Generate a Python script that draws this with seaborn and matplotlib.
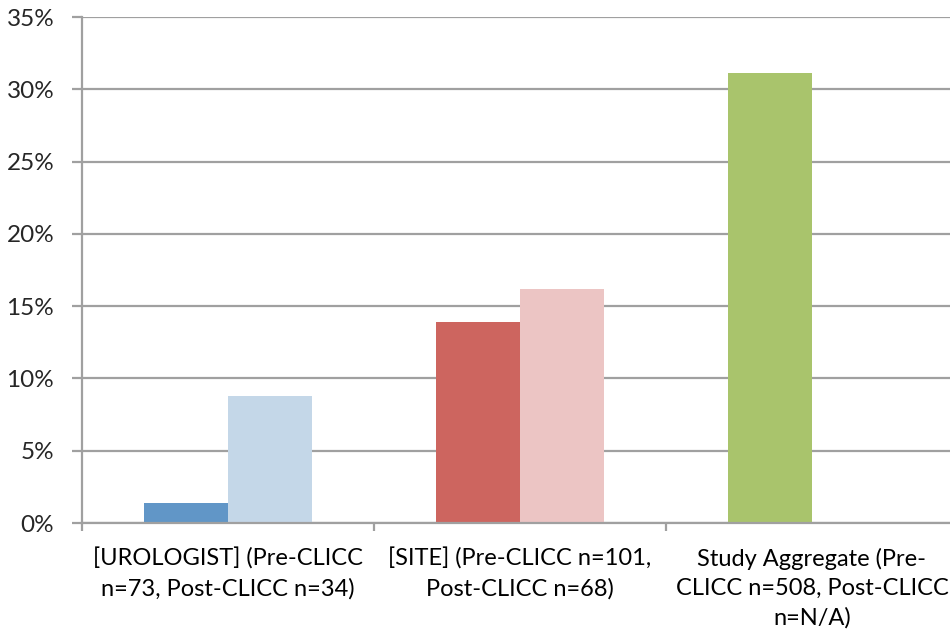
import matplotlib
matplotlib.use("Agg")
import matplotlib.pyplot as plt
import seaborn as sns
import pandas as pd
from matplotlib.ticker import PercentFormatter, FixedLocator

# Category labels (wrapped as on the axis)
categories = [
    "[UROLOGIST] (Pre-CLICC\nn=73, Post-CLICC n=34)",
    "[SITE] (Pre-CLICC n=101,\nPost-CLICC n=68)",
    "Study Aggregate (Pre-\nCLICC n=508, Post-CLICC\nn=N/A)",
]
phases = ["Pre-CLICC", "Post-CLICC"]

# Rates per category (fractions); aggregate has no post value
pre_values = [0.014, 0.139, 0.311]
post_values = [0.088, 0.162, None]

pre_colors = ["#6196C7", "#CD655F", "#A9C46C"]
post_colors = ["#C4D7E8", "#ECC5C4", "#FFFFFF"]

rows = []
for cat, pre, post in zip(categories, pre_values, post_values):
    rows.append({"category": cat, "phase": "Pre-CLICC", "value": pre})
    if post is not None:
        rows.append({"category": cat, "phase": "Post-CLICC", "value": post})
df = pd.DataFrame(rows)

sns.set_style("white")
plt.rcParams["font.family"] = ["Lato", "DejaVu Sans"]

fig = plt.figure(figsize=(9.5, 6.37), dpi=100)
ax = fig.add_axes([82 / 950, 114 / 637, 876 / 950, 506 / 637])

sns.barplot(
    data=df, x="category", y="value", hue="phase",
    order=categories, hue_order=phases,
    width=0.575, dodge=True, gap=0, legend=False,
    errorbar=None, ax=ax, saturation=1,
)

# Recolor bars individually
for container, colors, vals in zip(ax.containers, [pre_colors, post_colors], [pre_values, post_values]):
    present = [c for c, v in zip(colors, vals) if v is not None]
    for patch, c in zip(container.patches, present):
        patch.set_facecolor(c)
        patch.set_edgecolor("none")
        patch.set_linewidth(0)

ax.set_xlim(-0.5, 2.5)
ax.set_ylim(0, 0.35)
ax.yaxis.set_major_locator(FixedLocator([i * 0.05 for i in range(8)]))
ax.yaxis.set_major_formatter(PercentFormatter(xmax=1, decimals=0))

grid_color = "#A0A0A0"
ax.grid(axis="y", color=grid_color, linewidth=1.6)
ax.grid(axis="x", visible=False)
ax.set_axisbelow(True)

for side in ["top", "right"]:
    ax.spines[side].set_visible(False)
for side in ["left", "bottom"]:
    ax.spines[side].set_color(grid_color)
    ax.spines[side].set_linewidth(1.6)

# Category boundary ticks on x axis
ax.set_xticks([0, 1, 2])
ax.set_xticklabels(categories, fontsize=17, linespacing=1.45, color="#000000")
ax.xaxis.set_minor_locator(FixedLocator([-0.5, 0.5, 1.5, 2.5]))
ax.tick_params(axis="x", which="major", length=0, pad=18)
ax.tick_params(axis="x", which="minor", length=6, width=1.6, color=grid_color, direction="out", bottom=True)
ax.tick_params(axis="y", which="major", length=7, width=1.6, color=grid_color, direction="out",
               labelsize=17.5, pad=13, left=True)

ax.set_xlabel("")
ax.set_ylabel("")

fig.savefig("out.png", dpi=100)
